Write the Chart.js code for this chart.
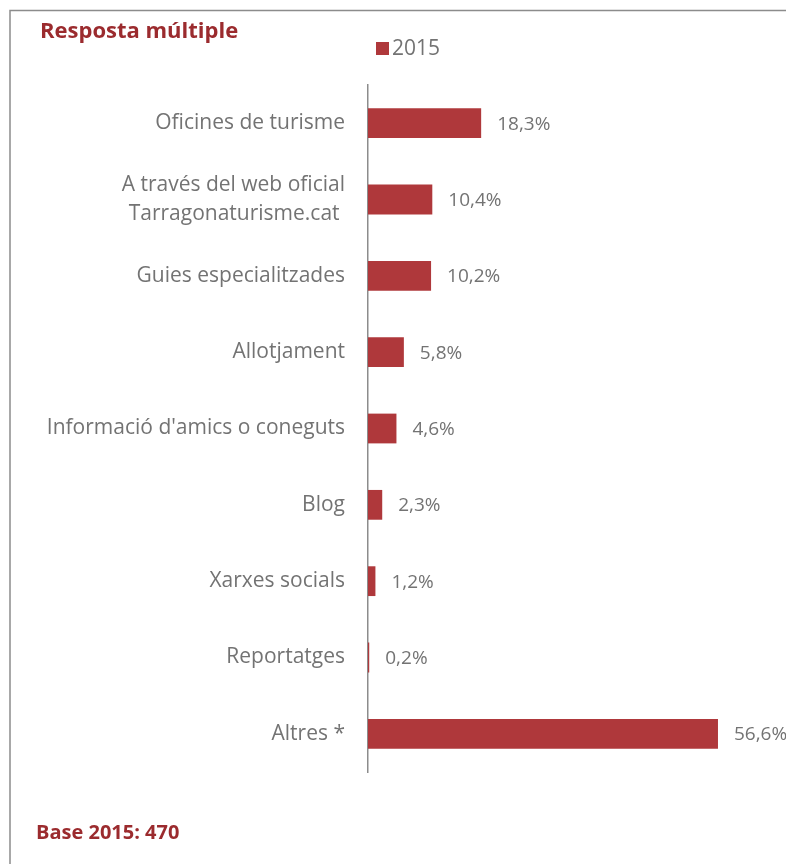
<!DOCTYPE html>
<html>
<head>
<meta charset="utf-8">
<script src="https://cdn.jsdelivr.net/npm/chart.js@4/dist/chart.umd.min.js"></script>
<style>
  html, body { margin: 0; padding: 0; background: #ffffff; }
  #wrap { position: relative; width: 786px; height: 864px; }
</style>
</head>
<body>
<div id="wrap"><canvas id="chart" width="786" height="864"></canvas></div>
<script>
// Fonts de informació consultades (resposta múltiple)
const categories = [
  'Oficines de turisme',
  ['A través del web oficial', 'Tarragonaturisme.cat '],
  'Guies especialitzades',
  'Allotjament',
  "Informació d'amics o coneguts",
  'Blog',
  'Xarxes socials',
  'Reportatges',
  'Altres *'
];
const values2015 = [18.3, 10.4, 10.2, 5.8, 4.6, 2.3, 1.2, 0.2, 56.6];
const seriesName = '2015';
const titleText = 'Resposta múltiple';
const footerText = 'Base 2015: 470';

const BAR = '#AF383B';
const DARKRED = '#9B2B2E';
const GREY = '#737373';
const FONT = '"Open Sans", "Liberation Sans", sans-serif';

const fmt = v => v.toFixed(1).replace('.', ',') + '%';

// Marc, títol, llegenda i peu
const decor = {
  id: 'decor',
  beforeDraw(chart) {
    const c = chart.ctx;
    c.save();
    c.strokeStyle = '#8c8c8c';
    c.lineWidth = 1.5;
    c.beginPath();
    c.moveTo(10, 900);
    c.lineTo(10, 10.5);
    c.lineTo(800, 10.5);
    c.stroke();
    c.restore();
  },
  afterDraw(chart) {
    const c = chart.ctx;
    c.save();
    c.textBaseline = 'middle';
    c.textAlign = 'left';
    c.fillStyle = DARKRED;
    c.font = 'bold 22px ' + FONT;
    c.fillText(titleText, 40, 32);
    c.font = 'bold 20px ' + FONT;
    c.fillText(footerText, 36, 833);
    // llegenda
    c.fillStyle = BAR;
    c.fillRect(376, 42, 13, 13);
    c.fillStyle = GREY;
    c.font = '21px ' + FONT;
    c.fillText(seriesName, 392, 49);
    c.restore();
  }
};

// Etiquetes de valor al final de cada barra
const valueLabels = {
  id: 'valueLabels',
  afterDatasetsDraw(chart) {
    const c = chart.ctx;
    const meta = chart.getDatasetMeta(0);
    c.save();
    c.fillStyle = GREY;
    c.font = '19px ' + FONT;
    c.textAlign = 'left';
    c.textBaseline = 'middle';
    meta.data.forEach((bar, i) => {
      c.fillText(fmt(chart.data.datasets[0].data[i]), bar.x + 16, bar.y + 1);
    });
    c.restore();
  }
};

new Chart(document.getElementById('chart'), {
  type: 'bar',
  data: {
    labels: categories,
    datasets: [{
      label: seriesName,
      data: values2015,
      backgroundColor: BAR,
      borderWidth: 0,
      categoryPercentage: 1,
      barPercentage: 0.39
    }]
  },
  options: {
    indexAxis: 'y',
    responsive: false,
    animation: false,
    layout: { padding: { top: 85, bottom: 92, right: 47, left: 0 } },
    plugins: {
      legend: { display: false },
      title: { display: false },
      tooltip: { enabled: false }
    },
    scales: {
      x: {
        display: false,
        min: 0,
        max: 60
      },
      y: {
        afterFit(scale) { scale.width = 368; },
        grid: { display: false, drawTicks: false },
        border: { display: true, color: '#8c8c8c', width: 1.5 },
        ticks: {
          color: GREY,
          padding: 23,
          font: { family: FONT, size: 21, lineHeight: 1.4 },
          autoSkip: false
        }
      }
    }
  },
  plugins: [decor, valueLabels]
});
</script>
</body>
</html>
